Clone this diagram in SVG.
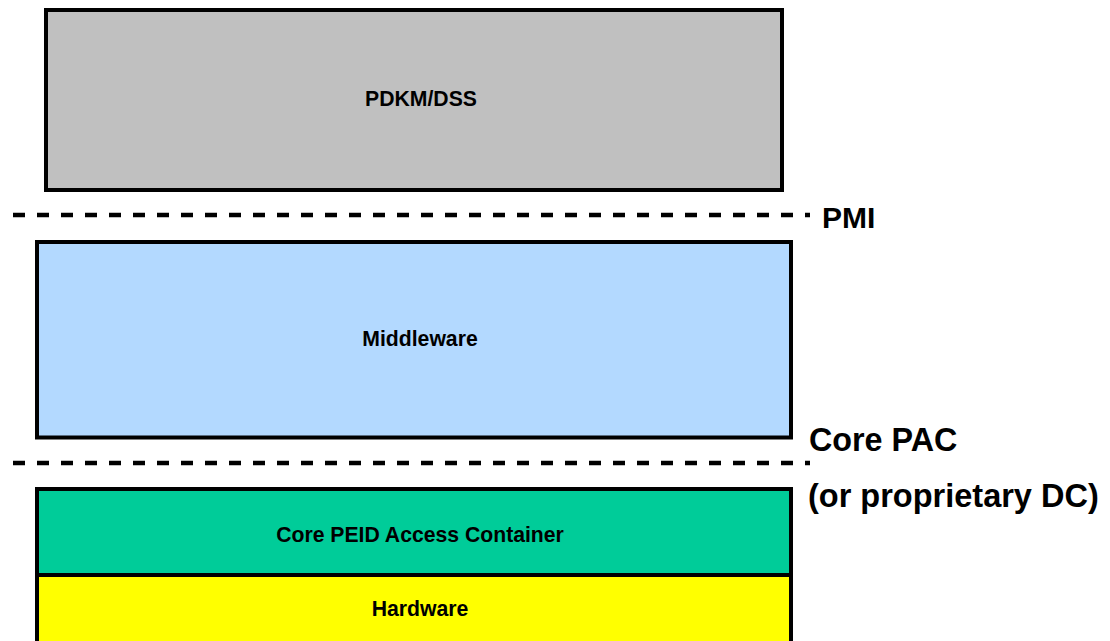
<svg xmlns="http://www.w3.org/2000/svg" width="1110" height="641" viewBox="0 0 1110 641">
<style>
.box{stroke:#000;stroke-width:4}
.lbl{font-family:"Liberation Sans",Arial,sans-serif;font-weight:bold;font-size:21.2px;text-anchor:middle;fill:#000}
.side{font-family:"Liberation Sans",Arial,sans-serif;font-weight:bold;fill:#000}
.dash{stroke:#000;stroke-width:4.5;stroke-dasharray:12 12;fill:none}
</style>
<rect width="1110" height="641" fill="#fff"/>
<g id="pdkm">
<rect class="box" x="46" y="10" width="736" height="180" fill="#C0C0C0"/>
<text class="lbl" x="421" y="106">PDKM/DSS</text>
</g>
<g id="middleware">
<rect class="box" x="37" y="242" width="754" height="195.5" fill="#B3D9FF"/>
<text class="lbl" x="420" y="346">Middleware</text>
</g>
<g id="corepac">
<rect class="box" x="37" y="489" width="754" height="86" fill="#00CC99"/>
<text class="lbl" x="420" y="542">Core PEID Access Container</text>
</g>
<g id="hardware">
<rect class="box" x="37" y="575" width="754" height="68" fill="#FFFF00"/>
<text class="lbl" x="420" y="616">Hardware</text>
</g>
<g id="connectors">
<line class="dash" x1="13" y1="215" x2="810" y2="215"/>
<line class="dash" x1="13" y1="463" x2="810" y2="463"/>
</g>
<g id="labels">
<text class="side" x="822" y="228" font-size="30">PMI</text>
<text class="side" x="809" y="451" font-size="32.3">Core PAC</text>
<text class="side" x="808" y="507" font-size="32.5">(or proprietary DC)</text>
</g>
</svg>
